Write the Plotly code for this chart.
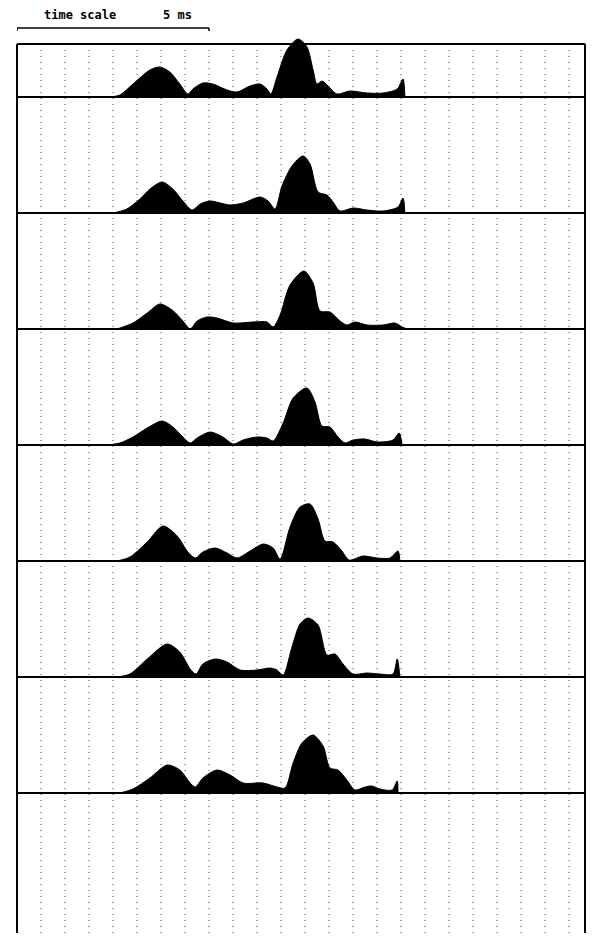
import plotly.graph_objects as go

# time axis in ms, amplitude in arbitrary units (baseline = 0)
t1 = [2.42, 2.68, 3.02, 3.46, 3.72, 3.98, 4.24, 4.45, 4.58, 4.84, 5.10, 5.47, 5.73, 6.07, 6.33, 6.51,
      6.61, 6.77, 7.03, 7.32, 7.55, 7.71, 7.81, 7.94, 8.10, 8.33, 8.67, 9.11, 9.53, 9.90, 10.05, 10.10]
a1 = [0, 2, 13, 27, 30, 25, 13, 3, 8, 14, 13, 7, 5, 11, 13, 8,
      3, 20, 47, 58, 50, 27, 13, 16, 11, 3, 6, 4, 4, 8, 18, 0]

t2 = [2.50, 2.86, 3.20, 3.46, 3.78, 4.06, 4.32, 4.56, 4.77, 5.03, 5.29, 5.55, 5.89, 6.33, 6.54,
      6.72, 6.90, 7.16, 7.45, 7.63, 7.84, 8.07, 8.23, 8.41, 8.75, 9.11, 9.53, 9.92, 10.05, 10.10]
a2 = [0, 4, 14, 24, 31, 24, 12, 3, 9, 12, 10, 8, 10, 16, 12,
      4, 27, 47, 57, 49, 21, 18, 11, 2, 5, 3, 2, 6, 15, 0]

t3 = [2.60, 3.02, 3.39, 3.72, 4.04, 4.32, 4.51, 4.69, 4.95, 5.21, 5.63, 6.15, 6.51, 6.67,
      6.85, 7.11, 7.47, 7.71, 7.89, 8.15, 8.41, 8.59, 8.80, 9.11, 9.53, 9.84, 10.03, 10.16]
a3 = [0, 6, 16, 25, 19, 8, 0, 8, 12, 11, 6, 7, 7, 2,
      14, 44, 58, 46, 18, 17, 8, 4, 7, 4, 4, 6, 2, 0]

t4 = [2.34, 2.68, 3.02, 3.39, 3.78, 4.06, 4.32, 4.51, 4.69, 5.03, 5.36, 5.63, 5.89, 6.25, 6.51,
      6.67, 6.93, 7.19, 7.55, 7.76, 7.94, 8.15, 8.36, 8.54, 8.75, 9.06, 9.38, 9.79, 9.95, 10.03]
a4 = [0, 2, 8, 17, 24, 18, 8, 2, 7, 13, 8, 1, 5, 8, 7,
      4, 22, 47, 57, 43, 19, 18, 8, 2, 5, 6, 3, 5, 12, 0]

t5 = [2.60, 2.94, 3.39, 3.80, 4.17, 4.45, 4.64, 4.84, 5.16, 5.47, 5.73, 6.07, 6.41, 6.67,
      6.85, 7.11, 7.37, 7.63, 7.84, 8.02, 8.23, 8.46, 8.65, 9.01, 9.38, 9.71, 9.92, 9.97]
a5 = [0, 4, 19, 35, 25, 9, 3, 9, 13, 8, 3, 10, 17, 13,
      2, 34, 54, 57, 42, 20, 19, 10, 1, 5, 3, 3, 10, 0]

t6 = [2.60, 2.94, 3.39, 3.91, 4.24, 4.51, 4.66, 4.84, 5.16, 5.47, 5.81, 6.25, 6.59, 6.77,
      6.93, 7.16, 7.37, 7.58, 7.84, 8.07, 8.28, 8.49, 8.75, 9.11, 9.45, 9.79, 9.90, 9.97]
a6 = [0, 3, 18, 33, 25, 8, 3, 13, 18, 15, 7, 7, 9, 7,
      2, 30, 53, 59, 52, 22, 23, 13, 3, 4, 3, 3, 18, 0]

t7 = [2.68, 3.02, 3.46, 3.91, 4.24, 4.51, 4.64, 4.84, 5.21, 5.55, 5.89, 6.41, 6.77, 6.98,
      7.19, 7.42, 7.71, 7.97, 8.15, 8.36, 8.59, 8.80, 9.06, 9.24, 9.45, 9.77, 9.90, 9.92]
a7 = [0, 4, 15, 28, 23, 10, 6, 15, 23, 18, 10, 10, 6, 5,
      30, 50, 58, 47, 25, 23, 13, 3, 6, 7, 4, 3, 12, 0]

times = [t1, t2, t3, t4, t5, t6, t7]
amps = [a1, a2, a3, a4, a5, a6, a7]

x_max = 14.79       # visible part of the sweep, ms
div = 0.625         # grid division, ms
n_div = 23          # dotted grid lines
scale_ms = 5        # time scale bar
step = 116          # vertical offset between traces
y_top = 53
y_bot = -836

fig = go.Figure()

# stacked traces, filled down to their baseline
for k in range(len(times)):
    base = -k * step
    fig.add_trace(go.Scatter(
        x=times[k], y=[base + v for v in amps[k]],
        mode="lines", line=dict(color="black", width=1, shape="spline", smoothing=0.8),
        fill="toself", fillcolor="black", showlegend=False, hoverinfo="skip"))

shapes = []
# dotted vertical grid
for i in range(1, n_div + 1):
    shapes.append(dict(type="line", xref="x", yref="y", x0=i * div, x1=i * div, y0=y_top, y1=y_bot,
                       line=dict(color="#444", width=1, dash="1px,5px"), layer="below"))
# baselines + top line
for k in range(len(times)):
    shapes.append(dict(type="line", xref="paper", yref="y", x0=0, x1=1, y0=-k * step, y1=-k * step,
                       line=dict(color="black", width=2)))
shapes.append(dict(type="line", xref="paper", yref="y", x0=0, x1=1, y0=y_top, y1=y_top,
                   line=dict(color="black", width=2)))
# left / right frame
for xx in [0, 1]:
    shapes.append(dict(type="line", xref="paper", yref="y", x0=xx, x1=xx, y0=y_top, y1=y_bot,
                       line=dict(color="black", width=2)))
# time scale bar
shapes.append(dict(type="line", xref="x", yref="paper", x0=0, x1=scale_ms, y0=1.0089, y1=1.0089,
                   line=dict(color="black", width=1.5)))
for xx in [0, scale_ms]:
    shapes.append(dict(type="line", xref="x", yref="paper", x0=xx, x1=xx, y0=1.0089, y1=1.0056,
                       line=dict(color="black", width=1.5)))

# page has an 8px body margin, so the figure is sized to fit inside the window
fig.update_layout(
    autosize=False,
    width=579, height=925,
    margin=dict(l=9, r=2, t=28, b=0),
    paper_bgcolor="white", plot_bgcolor="white",
    shapes=shapes,
    annotations=[
        dict(text="<b>time scale</b>", xref="x", yref="paper", x=1.64, y=1.0234, yanchor="middle",
             showarrow=False, font=dict(family="DejaVu Sans Mono", size=12, color="black")),
        dict(text="<b>5 ms</b>", xref="x", yref="paper", x=4.17, y=1.0234, yanchor="middle",
             showarrow=False, font=dict(family="DejaVu Sans Mono", size=12, color="black")),
    ],
    xaxis=dict(range=[0, x_max], showgrid=False, zeroline=False, showticklabels=False, showline=False),
    yaxis=dict(range=[y_bot, 61], showgrid=False, zeroline=False, showticklabels=False, showline=False),
)

fig.write_html("out.html")
